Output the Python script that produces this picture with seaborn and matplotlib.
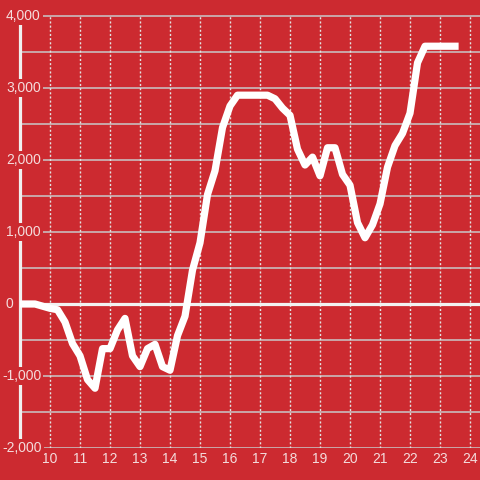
import matplotlib
matplotlib.use("Agg")
import matplotlib.pyplot as plt
import matplotlib.transforms as mtransforms
import seaborn as sns
import pandas as pd

# readings, one point every 15 minutes
hours = [9.0, 9.25, 9.5, 9.75, 10.0, 10.25, 10.5, 10.75, 11.0, 11.25, 11.5, 11.75,
         12.0, 12.25, 12.5, 12.75, 13.0, 13.25, 13.5, 13.75, 14.0, 14.25, 14.5, 14.75,
         15.0, 15.25, 15.5, 15.75, 16.0, 16.25, 16.5, 16.75, 17.0, 17.25, 17.5, 17.75,
         18.0, 18.25, 18.5, 18.75, 19.0, 19.25, 19.5, 19.75, 20.0, 20.25, 20.5, 20.75,
         21.0, 21.25, 21.5, 21.75, 22.0, 22.25, 22.5, 22.75, 23.0, 23.25, 23.5]
values = [0, 0, 0, -30, -60, -80, -250, -550, -720, -1050, -1170, -620,
          -620, -360, -200, -720, -870, -620, -560, -870, -920, -440, -170, 470,
          850, 1520, 1850, 2450, 2750, 2900, 2900, 2900, 2900, 2900, 2850, 2720,
          2620, 2150, 1930, 2040, 1780, 2170, 2170, 1800, 1650, 1130, 920, 1100,
          1390, 1900, 2200, 2370, 2650, 3350, 3580, 3580, 3580, 3580, 3580]

x_ticks = list(range(10, 25))
y_grid = list(range(-2000, 4001, 500))
y_labels = list(range(-2000, 4001, 1000))

red = "#cc2a30"
text_col = "#f4dcdc"

sns.set_style("white")
plt.rcParams["font.family"] = ["Liberation Sans", "DejaVu Sans"]

fig = plt.figure(figsize=(4.8, 4.8), dpi=100, facecolor=red)
ax = fig.add_axes([20 / 480, 32 / 480, 460 / 480, 448 / 480])
ax.set_facecolor(red)

df = pd.DataFrame({"hour": hours, "value": values})

# grid
for v in y_grid:
    ax.axhline(v, color="#c9c9c9", lw=1.1, zorder=1)
ax.vlines(x_ticks, -2000, 4000, colors="#e2e2e2", lw=1.0,
          linestyles=(0, (1.5, 1.5)), zorder=1)
ax.axhline(0, color="#f2f2f2", lw=2.3, zorder=3)

sns.lineplot(data=df, x="hour", y="value", ax=ax, color="white", lw=5.2,
             solid_capstyle="projecting", solid_joinstyle="round", zorder=4)

ax.set_xlim(9.0, 24.333)
ax.set_ylim(-2000, 4222)

for s in ["top", "right", "bottom"]:
    ax.spines[s].set_visible(False)
ax.spines["left"].set_color("#f0f0f0")
ax.spines["left"].set_linewidth(2.3)
ax.spines["left"].set_bounds(-2000, 4000)

ax.set_xticks(x_ticks)
ax.set_xticklabels([str(h) for h in x_ticks])
ax.tick_params(axis="x", length=0, pad=3, labelsize=10, labelcolor=text_col)
ax.set_yticks([])
ax.set_xlabel("")
ax.set_ylabel("")

trans = mtransforms.blended_transform_factory(fig.transFigure, ax.transData)
for v in y_labels:
    x0 = 2 / 480 if v < 0 else 6 / 480
    ax.text(x0, v, f"{v:,}", transform=trans, ha="left", va="center",
            fontsize=10, color=text_col, zorder=3.5,
            bbox=dict(facecolor=red, edgecolor="none", pad=1.5))

fig.savefig("out.png", dpi=100, facecolor=red)
